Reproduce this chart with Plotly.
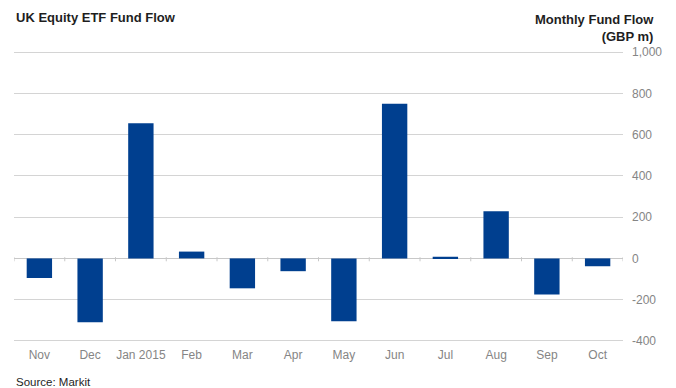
import plotly.graph_objects as go

months = ["Nov", "Dec", "Jan 2015", "Feb", "Mar", "Apr", "May", "Jun", "Jul", "Aug", "Sep", "Oct"]
flows = [-95, -310, 655, 33, -145, -62, -305, 750, 8, 228, -175, -38]
y_ticks = [-400, -200, 0, 200, 400, 600, 800, 1000]
y_labels = ["-400", "-200", "0", "200", "400", "600", "800", "1,000"]

FONT = "Liberation Sans Narrow, Liberation Sans, Arial, sans-serif"
PW, PH, L, T = 609, 293, 14, 50

def px(x):
    return (x - L) / PW

def py(y):
    return 1 + (T - y) / PH

fig = go.Figure()
fig.add_trace(go.Bar(
    x=list(range(len(months))), y=flows,
    marker=dict(color="#003f8f", line=dict(width=0)),
    width=0.5,
))

shapes = []
for i in range(len(months) + 1):
    shapes.append(dict(type="line", xref="x", yref="y",
                       x0=i - 0.5, x1=i - 0.5, y0=-14, y1=6,
                       line=dict(color="#c8c8c8", width=1)))

fig.update_layout(
    width=676, height=388,
    margin=dict(l=L, r=676 - L - PW, t=T, b=388 - T - PH),
    paper_bgcolor="white", plot_bgcolor="white",
    showlegend=False,
    shapes=shapes,
    xaxis=dict(
        tickmode="array", tickvals=list(range(len(months))), ticktext=months,
        range=[-0.5, len(months) - 0.5],
        showgrid=False, zeroline=False, showline=False, ticks="",
        ticklabelstandoff=3,
        tickfont=dict(family=FONT, size=12, color="#858585"),
    ),
    yaxis=dict(
        side="right", range=[-410, 1010],
        tickmode="array", tickvals=y_ticks, ticktext=y_labels,
        showgrid=True, gridcolor="#d4d4d4", gridwidth=1,
        zeroline=True, zerolinecolor="#c8c8c8", zerolinewidth=1,
        showline=False, ticks="", ticklabelstandoff=8,
        tickfont=dict(family=FONT, size=12, color="#858585"),
    ),
    annotations=[
        dict(text="<b>UK Equity ETF Fund Flow</b>", xref="paper", yref="paper",
             x=px(14), y=py(18), xanchor="left", yanchor="middle",
             showarrow=False, font=dict(family=FONT, size=13, color="#1e1e1e")),
        dict(text="<b>Monthly Fund Flow</b><br><b>(GBP m)</b>", xref="paper", yref="paper",
             x=px(655), y=py(28.5), xanchor="right", yanchor="middle", align="right",
             showarrow=False, borderpad=0,
             font=dict(family=FONT, size=13, color="#1e1e1e")),
        dict(text="Source: Markit", xref="paper", yref="paper",
             x=px(14), y=py(382), xanchor="left", yanchor="middle",
             showarrow=False, font=dict(family=FONT, size=11.5, color="#1e1e1e")),
    ],
)

fig.write_html("out.html")
